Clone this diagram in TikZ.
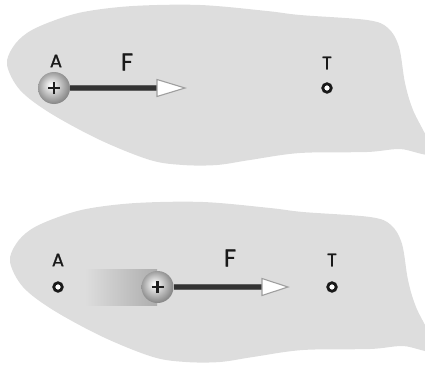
\documentclass[tikz,border=0pt]{standalone}
\usepackage{fontspec}
\setmainfont{Poppins}
\newfontfamily\lblfont{Poppins}[FakeBold=1.2]
\pgfdeclareradialshading{sph}{\pgfpoint{-5bp}{5bp}}{%
  color(0bp)=(white);
  color(5bp)=(white!92!black);
  color(15bp)=(white!74!black);
  color(25bp)=(white!56!black);
  color(32bp)=(white!46!black);
  color(50bp)=(white!46!black)}
\begin{document}
\begin{tikzpicture}[x=1pt,y=1pt]
\definecolor{bg}{RGB}{221,221,221}
\definecolor{ink}{RGB}{25,25,25}
\tikzset{
  blobpic/.pic={
    \fill[bg] plot[smooth cycle, tension=0.55] coordinates {
      (7,300) (13,318) (27,332) (50,343) (83,353) (133,359) (200,360)
      (267,354) (300,350) (367,345) (388,337) (399,318) (405,282)
      (413,255) (432,212) (400,216) (367,213) (300,212) (250,205)
      (217,200) (183,200) (150,205) (100,225) (50,252) (20,275)};
  },
  charge/.style={circle, minimum size=32pt, inner sep=0pt, shading=sph,
    path picture={\draw[line width=2.2pt, black!88]
      ([xshift=-6pt]path picture bounding box.center) -- ([xshift=6pt]path picture bounding box.center)
      ([yshift=-6pt]path picture bounding box.center) -- ([yshift=6pt]path picture bounding box.center);}},
  ring/.style={circle, draw=ink, line width=2.8pt, fill=white, minimum size=8.5pt, inner sep=0pt},
  lbl/.style={font=\lblfont\fontsize{18}{18}\selectfont, text=ink, inner sep=0pt},
  flbl/.style={font=\lblfont\fontsize{24}{24}\selectfont, text=ink, inner sep=0pt},
  shaftout/.style={line width=6pt, draw=gray!75!black},
  shaftin/.style={line width=3.6pt, draw=black!80},
  head/.style={fill=white, draw=gray!75, line width=1.1pt, line join=miter},
  trail/.style={left color=bg, right color=white!68!black}
}
\useasboundingbox (0,0) rectangle (425,365);
\begin{scope}
  \clip (0,0) rectangle (425,365);
  \pic at (0,0) {blobpic};
  \pic at (3,-197) {blobpic};
\end{scope}

% ---- top panel ----
\node[lbl] (la1) at (56,304) {A};
\node[flbl] (lf1) at (127,303) {F};
\node[lbl] (lt1) at (327,302) {T};
\node[ring] (t1) at (327,277) {};
\node[charge] (qa) at (54,277) {};
\coordinate (ha) at (157,277);
\coordinate (ta) at (185,277);
\draw[shaftout] (qa) -- (ha);
\draw[shaftin] (qa) -- (ha);
\filldraw[head] ([yshift=8.5pt]ha) -- (ta) -- ([yshift=-8.5pt]ha) -- cycle;

% ---- bottom panel ----
\node[lbl] (la2) at (58,105) {A};
\node[ring] (a2) at (58,78) {};
\node[flbl] (lf2) at (230,107) {F};
\node[lbl] (lt2) at (332,105) {T};
\node[ring] (t2) at (332,78) {};
\coordinate (trs) at (85,60);
\coordinate (tre) at (157,96);
\shade[trail] (trs) rectangle (tre);
\node[charge] (qb) at (157.5,78) {};
\coordinate (hb) at (262,78);
\coordinate (tb) at (288,78);
\draw[shaftout] (qb) -- (hb);
\draw[shaftin] (qb) -- (hb);
\filldraw[head] ([yshift=8.5pt]hb) -- (tb) -- ([yshift=-8.5pt]hb) -- cycle;
\end{tikzpicture}
\end{document}
